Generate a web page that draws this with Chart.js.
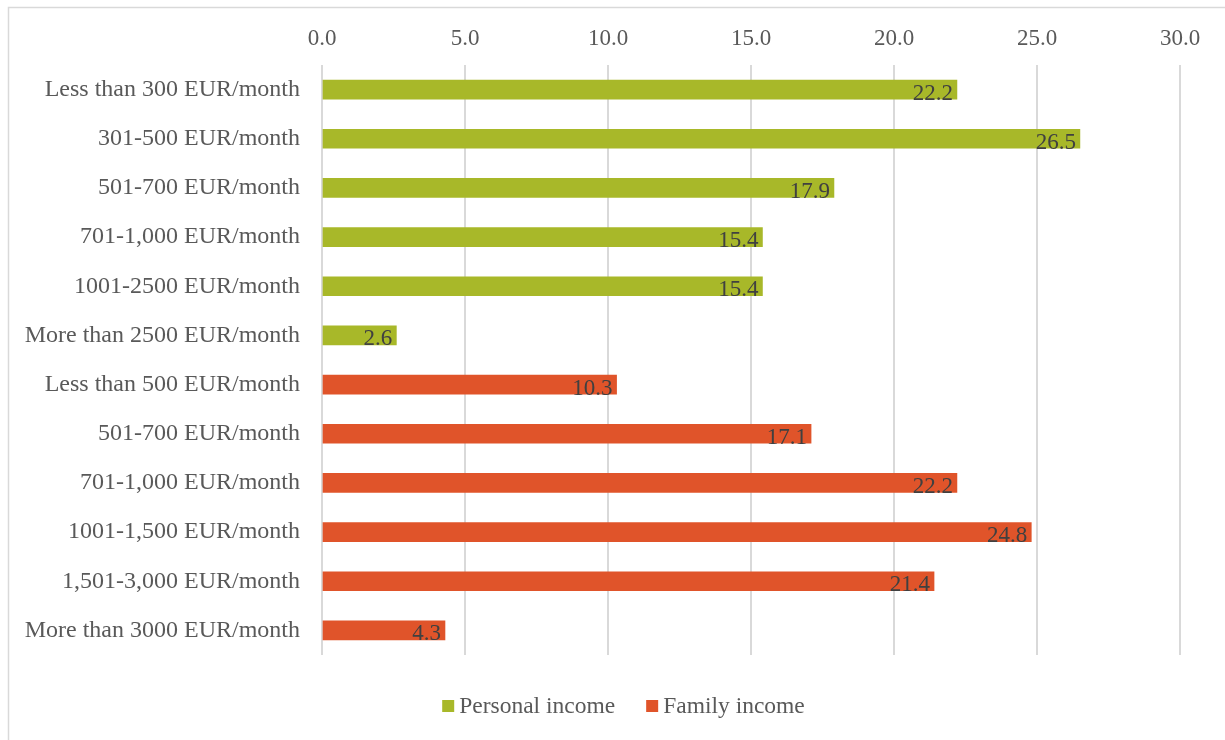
<!DOCTYPE html>
<html>
<head>
<meta charset="utf-8">
<script src="https://cdn.jsdelivr.net/npm/chart.js@4.4.1/dist/chart.umd.min.js"></script>
<style>
  html, body { margin: 0; padding: 0; background: #ffffff; }
  #wrap { width: 1225px; height: 740px; position: relative; }
</style>
</head>
<body>
<div id="wrap"><canvas id="c" width="1225" height="740"></canvas></div>
<script>
// Income brackets (personal first, then family)
const categories = [
  'Less than 300 EUR/month',
  '301-500 EUR/month',
  '501-700 EUR/month',
  '701-1,000 EUR/month',
  '1001-2500 EUR/month',
  'More than 2500 EUR/month',
  'Less than 500 EUR/month',
  '501-700 EUR/month',
  '701-1,000 EUR/month',
  '1001-1,500 EUR/month',
  '1,501-3,000 EUR/month',
  'More than 3000 EUR/month'
];
// Shares in percent; null where the bracket belongs to the other series
const personalIncome = [22.2, 26.5, 17.9, 15.4, 15.4, 2.6, null, null, null, null, null, null];
const familyIncome   = [null, null, null, null, null, null, 10.3, 17.1, 22.2, 24.8, 21.4, 4.3];
const seriesNames = ['Personal income', 'Family income'];
const seriesColors = ['#A8B829', '#E0542A'];
const xTicks = [0, 5, 10, 15, 20, 25, 30];

const SERIF = "'Liberation Serif', 'Times New Roman', serif";

// White background and the light outline of the chart frame
const framePlugin = {
  id: 'frame',
  beforeDraw(chart) {
    const ctx = chart.ctx;
    ctx.save();
    ctx.fillStyle = '#ffffff';
    ctx.fillRect(0, 0, chart.width, chart.height);
    ctx.strokeStyle = '#d9d9d9';
    ctx.lineWidth = 1.5;
    ctx.strokeRect(8.5, 7.5, chart.width + 20, chart.height + 20);
    ctx.restore();
  }
};

// Value labels at the inner end of each bar
const valueLabels = {
  id: 'valueLabels',
  afterDatasetsDraw(chart) {
    const ctx = chart.ctx;
    ctx.save();
    ctx.font = '23px ' + SERIF;
    ctx.fillStyle = '#404040';
    ctx.textAlign = 'right';
    ctx.textBaseline = 'middle';
    chart.data.datasets.forEach((ds, i) => {
      const meta = chart.getDatasetMeta(i);
      meta.data.forEach((bar, j) => {
        const v = ds.data[j];
        if (v === null || v === undefined) return;
        ctx.fillText(v.toFixed(1), bar.x - 4, bar.y + 4);
      });
    });
    ctx.restore();
  }
};

// Legend row under the plot: square swatch followed by the series name
const bottomLegend = {
  id: 'bottomLegend',
  afterDraw(chart) {
    const ctx = chart.ctx;
    ctx.save();
    ctx.font = '23.5px ' + SERIF;
    ctx.textBaseline = 'middle';
    ctx.textAlign = 'left';
    const box = 12, gap = 5, itemGap = 31;
    const widths = seriesNames.map(n => ctx.measureText(n).width);
    const total = widths.reduce((a, w) => a + box + gap + w, 0) + itemGap * (seriesNames.length - 1);
    let x = chart.width / 2 + 11 - total / 2;
    const y = chart.chartArea.bottom + 51;
    seriesNames.forEach((name, i) => {
      ctx.fillStyle = seriesColors[i];
      ctx.fillRect(x, y - 6, box, box);
      ctx.fillStyle = '#595959';
      ctx.fillText(name, x + box + gap, y + 1);
      x += box + gap + widths[i] + itemGap;
    });
    ctx.restore();
  }
};

new Chart(document.getElementById('c'), {
  type: 'bar',
  data: {
    labels: categories,
    datasets: [
      { label: seriesNames[0], data: personalIncome, backgroundColor: seriesColors[0], barThickness: 19 },
      { label: seriesNames[1], data: familyIncome, backgroundColor: seriesColors[1], barThickness: 19 }
    ]
  },
  options: {
    indexAxis: 'y',
    responsive: false,
    animation: false,
    layout: { padding: { left: 0, right: 45, top: 0, bottom: 85 } },
    scales: {
      x: {
        position: 'top',
        min: 0,
        max: 30,
        afterBuildTicks(scale) { scale.ticks = xTicks.map(v => ({ value: v })); },
        ticks: {
          callback: v => Number(v).toFixed(1),
          color: '#595959',
          font: { family: SERIF, size: 23 },
          padding: 12
        },
        grid: { color: '#d9d9d9', lineWidth: 2, drawTicks: false },
        border: { display: false },
        afterFit(scale) { scale.height = 65; }
      },
      y: {
        stacked: true,
        ticks: {
          color: '#595959',
          font: { family: SERIF, size: 24 },
          padding: 22
        },
        grid: { display: false, drawTicks: false },
        border: { display: false },
        afterFit(scale) { scale.width = 322; }
      }
    },
    plugins: {
      legend: { display: false },
      tooltip: { enabled: false }
    }
  },
  plugins: [framePlugin, valueLabels, bottomLegend]
});
</script>
</body>
</html>
